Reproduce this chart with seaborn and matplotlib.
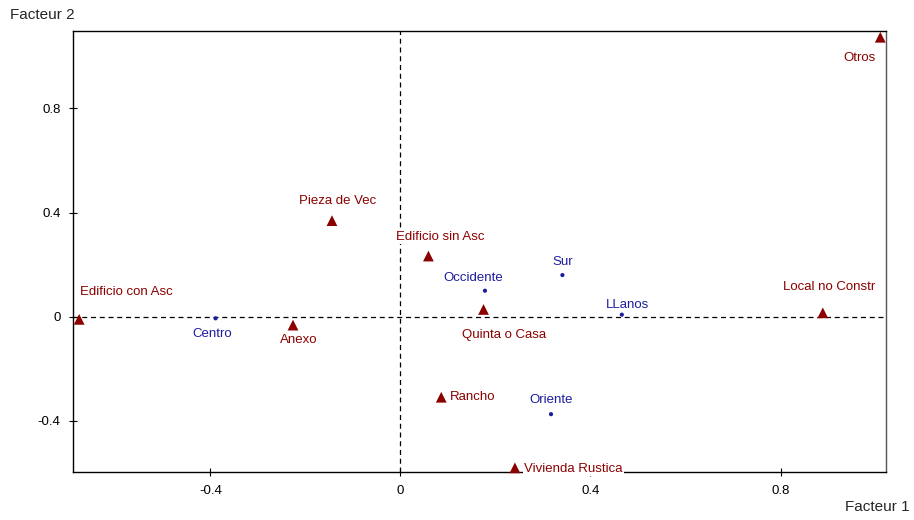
import matplotlib
matplotlib.use("Agg")
import matplotlib.pyplot as plt
import seaborn as sns
import pandas as pd

# Modalities of the two variables projected on the first factorial plane
housing_names = ["Edificio con Asc", "Anexo", "Pieza de Vec", "Edificio sin Asc",
                 "Quinta o Casa", "Local no Constr", "Otros", "Rancho", "Vivienda Rustica"]
housing_f1 = [-0.676, -0.226, -0.144, 0.059, 0.175, 0.889, 1.010, 0.086, 0.241]
housing_f2 = [-0.010, -0.032, 0.369, 0.233, 0.028, 0.015, 1.073, -0.309, -0.580]

region_names = ["Centro", "Occidente", "Sur", "LLanos", "Oriente"]
region_f1 = [-0.389, 0.178, 0.341, 0.466, 0.317]
region_f2 = [-0.006, 0.100, 0.160, 0.008, -0.374]

x_ticks = [-0.4, 0, 0.4, 0.8]
y_ticks = [-0.4, 0, 0.4, 0.8]
x_tick_labels = ["-0.4", "0", "0.4", "0.8"]
y_tick_labels = ["-0.4", "0", "0.4", "0.8"]

# Label placement: (dx, dy) in pixels from the point, horizontal alignment
label_offsets = {
    "Edificio con Asc": (1, 27, "left"),
    "Anexo": (6, -15, "center"),
    "Pieza de Vec": (6, 20, "center"),
    "Edificio sin Asc": (12, 19, "center"),
    "Quinta o Casa": (21, -26, "center"),
    "Local no Constr": (6, 26, "center"),
    "Otros": (-21, -21, "center"),
    "Rancho": (9, 0, "left"),
    "Vivienda Rustica": (9, -1, "left"),
    "Centro": (-3, -16, "center"),
    "Occidente": (-12, 12.5, "center"),
    "Sur": (0, 13.5, "center"),
    "LLanos": (6, 10, "center"),
    "Oriente": (0, 14, "center"),
}

RED = "#8b0000"
BLUE = "#1c1ca0"

df = pd.DataFrame({
    "name": housing_names + region_names,
    "f1": housing_f1 + region_f1,
    "f2": housing_f2 + region_f2,
    "group": ["housing"] * len(housing_names) + ["region"] * len(region_names),
})

sns.set_style("white")
plt.rcParams["font.family"] = ["Liberation Sans", "DejaVu Sans"]

fig = plt.figure(figsize=(9.14, 5.2), dpi=100)
ax = fig.add_axes([73 / 914, 1 - 472 / 520, (886 - 73) / 914, (472 - 31) / 520])

ax.axhline(0, color="black", lw=0.9, ls=(0, (4, 3)), zorder=1)
ax.axvline(0, color="black", lw=0.9, ls=(0, (4, 3)), zorder=1)

sns.scatterplot(data=df[df.group == "housing"], x="f1", y="f2", marker="^",
                s=60, color=RED, edgecolor="none", ax=ax, zorder=4, clip_on=False)
sns.scatterplot(data=df[df.group == "region"], x="f1", y="f2", marker="o",
                s=9, color=BLUE, edgecolor="none", ax=ax, zorder=4, clip_on=False)

for _, row in df.iterrows():
    dx, dy, ha = label_offsets[row["name"]]
    color = RED if row["group"] == "housing" else BLUE
    ax.annotate(row["name"], (row["f1"], row["f2"]), xytext=(dx, dy),
                textcoords="offset pixels", ha=ha, va="center", fontsize=9.5,
                color=color, zorder=3, annotation_clip=False,
                bbox=dict(boxstyle="square,pad=0.1", fc="white", ec="none"))

ax.set_xlim(-0.689, 1.022)
ax.set_ylim(-0.596, 1.097)
ax.set_xticks(x_ticks)
ax.set_xticklabels(x_tick_labels)
ax.set_yticks(y_ticks)
ax.set_yticklabels(y_tick_labels)
ax.tick_params(direction="inout", length=6, width=0.8, color="black",
               labelsize=9.5, labelcolor="black", pad=6)
ax.tick_params(axis="both", which="both", bottom=True, left=True)
ax.set_xlabel("")
ax.set_ylabel("")

for side, sp in ax.spines.items():
    sp.set_visible(True)
    sp.set_color("black" if side in ("left", "bottom", "top") else "#555555")
    sp.set_linewidth(1.0)
    sp.set_zorder(2)

fig.text(10 / 914, 1 - 15 / 520, "Facteur 2", ha="left", va="center", fontsize=11)
fig.text(910 / 914, 1 - 507 / 520, "Facteur 1", ha="right", va="center", fontsize=11)

fig.savefig("out.png", dpi=100, facecolor="white")
